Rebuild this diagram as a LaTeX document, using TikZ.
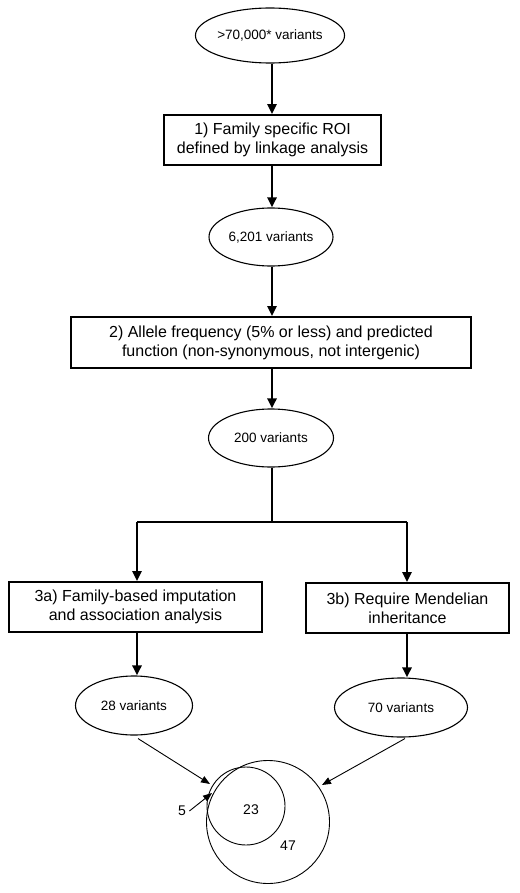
\documentclass[tikz,border=0pt]{standalone}
\usepackage{fontspec}
\setmainfont{Liberation Sans}
\usetikzlibrary{shapes,arrows.meta,positioning}

\begin{document}
\begin{tikzpicture}[x=1pt, y=-1pt,
    countnode/.style={draw, ellipse, line width=1.1pt, inner sep=0pt, font=\fontsize{13.5}{16}\selectfont},
    stepbox/.style={draw, rectangle, line width=1.8pt, align=center, inner sep=0pt, font=\fontsize{16}{19}\selectfont},
    bigarrow/.style={line width=2.6pt, -{Triangle[length=10pt, width=9pt]}},
    thinarrow/.style={line width=0.9pt, -{Triangle[length=9pt, width=7pt]}}]
    \useasboundingbox (0,0) rectangle (519,893);
    % counts and filter steps
    \node[countnode, minimum width=121pt, minimum height=55pt] (start) at (270,35.5) {>70,000* variants};
    \node[stepbox, minimum width=217pt, minimum height=50pt] (roi) at (272.5,140) {1) Family specific ROI\\defined by linkage analysis};
    \node[countnode, minimum width=124pt, minimum height=58pt] (n6201) at (271,237) {6,201 variants};
    \node[stepbox, minimum width=400pt, minimum height=51pt] (freq) at (271,342.5) {2) Allele frequency (5\% or less) and predicted\\function (non-synonymous, not intergenic)};
    \node[countnode, minimum width=125pt, minimum height=58pt] (n200) at (271,438) {200 variants};
    \coordinate (split) at (272,522);
    \coordinate (splitleft) at (137,522);
    \coordinate (splitright) at (407,522);
    \node[stepbox, minimum width=253pt, minimum height=50pt] (famimp) at (135.5,607) {3a) Family-based imputation\\and association analysis};
    \node[stepbox, minimum width=203pt, minimum height=50pt] (mendel) at (407.5,608) {3b) Require Mendelian\\inheritance};
    \node[countnode, minimum width=117pt, minimum height=59pt] (n28) at (134,705.5) {28 variants};
    \node[countnode, minimum width=133pt, minimum height=59pt] (n70) at (401,707.5) {70 variants};
    % overlap of the two sets
    \node[draw, circle, line width=0.9pt, minimum size=123pt, inner sep=0pt] (bigset) at (268,822) {};
    \node[draw, circle, line width=0.9pt, minimum size=78pt, inner sep=0pt] (smallset) at (246,806) {};
    \node[font=\fontsize{14}{16}\selectfont] (both) at (251,810) {23};
    \node[font=\fontsize{14}{16}\selectfont] (onlymend) at (288,846) {47};
    \node[font=\fontsize{14}{16}\selectfont] (onlyimp) at (182,811) {5};
    \coordinate (leftin) at (210,784);
    \coordinate (rightin) at (322,785);
    \coordinate (fivein) at (212,793);
    % connectors
    \draw[bigarrow] (start.south -| split) -- (roi.north -| split);
    \draw[bigarrow] (roi.south -| split) -- (n6201.north -| split);
    \draw[bigarrow] (n6201.south -| split) -- (freq.north -| split);
    \draw[bigarrow] (freq.south -| split) -- (n200.north -| split);
    \draw[line width=2.6pt] (n200.south -| split) -- (split);
    \draw[line width=2.6pt] (splitleft) -- (splitright);
    \draw[bigarrow] (splitleft) -- (splitleft |- famimp.north);
    \draw[bigarrow] (splitright) -- (splitright |- mendel.north);
    \draw[bigarrow] (famimp.south -| splitleft) -- (splitleft |- n28.north);
    \draw[bigarrow] (mendel.south -| splitright) -- (splitright |- n70.north);
    \draw[thinarrow] ([xshift=4pt, yshift=-3pt]n28.south) -- (leftin);
    \draw[thinarrow] ([xshift=4pt, yshift=-1pt]n70.south) -- (rightin);
    \draw[thinarrow] (onlyimp.east) -- (fivein);
\end{tikzpicture}
\end{document}
